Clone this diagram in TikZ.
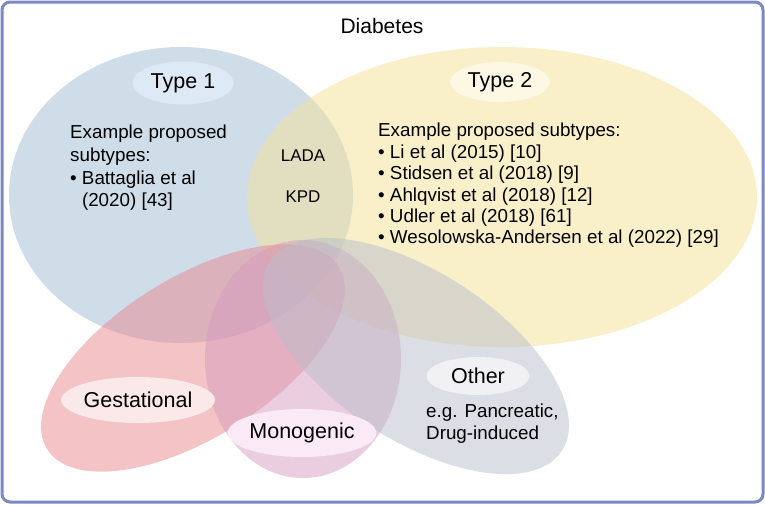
\documentclass[tikz,border=0pt]{standalone}
\usepackage{fontspec}
\setmainfont{Liberation Sans}
\usetikzlibrary{shapes.geometric}

\definecolor{typeoneblue}{RGB}{160,188,212}
\definecolor{typetwoyellow}{RGB}{244,226,150}
\definecolor{gestred}{RGB}{232,136,142}
\definecolor{monopink}{RGB}{214,156,190}
\definecolor{othergray}{RGB}{185,190,202}
\definecolor{framecol}{RGB}{122,136,196}
\definecolor{typeonetag}{RGB}{221,233,245}
\definecolor{typetwotag}{RGB}{252,248,228}
\definecolor{gesttag}{RGB}{251,232,232}
\definecolor{monotag}{RGB}{250,234,245}
\definecolor{othertag}{RGB}{241,241,243}

\begin{document}
\begin{tikzpicture}[
    x=1pt, y=-1pt,
    set/.style={ellipse, fill opacity=0.5, inner sep=0pt},
    tag/.style={ellipse, inner sep=0pt, font=\fontsize{21.5}{24}\selectfont},
    body/.style={inner sep=0pt, align=left, font=\fontsize{18.8}{22}\selectfont},
    small/.style={inner sep=0pt, font=\fontsize{17}{20}\selectfont}
]
\useasboundingbox (0,0) rectangle (765,504);
\draw[framecol, line width=3pt, rounded corners=8pt, fill=white] (2,2) rectangle (763,502);

\node[font=\fontsize{21}{24}\selectfont] (diab) at (382,26) {Diabetes};

\node[set, fill=typeoneblue, minimum width=344, minimum height=296] (type1) at (181,195) {};
\node[set, fill=typetwoyellow, minimum width=510, minimum height=300] (type2) at (502,197) {};
\node[set, fill=gestred, minimum width=344, minimum height=160, rotate=32] (gest) at (193,358) {};
\node[set, fill=monopink, minimum width=196, minimum height=238] (mono) at (303,359) {};
\node[set, fill=othergray, minimum width=348, minimum height=168, rotate=-33] (other) at (416,356) {};

\node[tag, fill=typeonetag, minimum width=101, minimum height=43] (t1lab) at (183,83) {Type 1};
\node[tag, fill=typetwotag, minimum width=100, minimum height=40] (t2lab) at (500,82) {Type 2};
\node[tag, fill=gesttag, minimum width=130, minimum height=46] (gestlab) at (138,400) {Gestational};
\node[tag, fill=monotag, minimum width=131, minimum height=48] (monolab) at (302,433) {Monogenic};
\node[tag, fill=othertag, minimum width=103, minimum height=38] (otherlab) at (478,376) {Other};

\node[body, anchor=north west, font=\fontsize{18.8}{22.7}\selectfont] (t1text) at (70,125)
  {Example proposed\\subtypes:\\• Battaglia et al\\\hphantom{• }(2020) [43]};
\node[body, anchor=north west, font=\fontsize{18.8}{21.4}\selectfont] (t2text) at (378,123)
  {Example proposed subtypes:\\• Li et al (2015) [10]\\• Stidsen et al (2018) [9]\\• Ahlqvist et al (2018) [12]\\• Udler et al (2018) [61]\\• Wesolowska-Andersen et al (2022) [29]};
\node[small] (lada) at (303,155.5) {LADA};
\node[small] (kpd) at (303,196.5) {KPD};
\node[body, anchor=north west] (othertext) at (426,404) {e.g. Pancreatic,\\Drug-induced};

\end{tikzpicture}
\end{document}
